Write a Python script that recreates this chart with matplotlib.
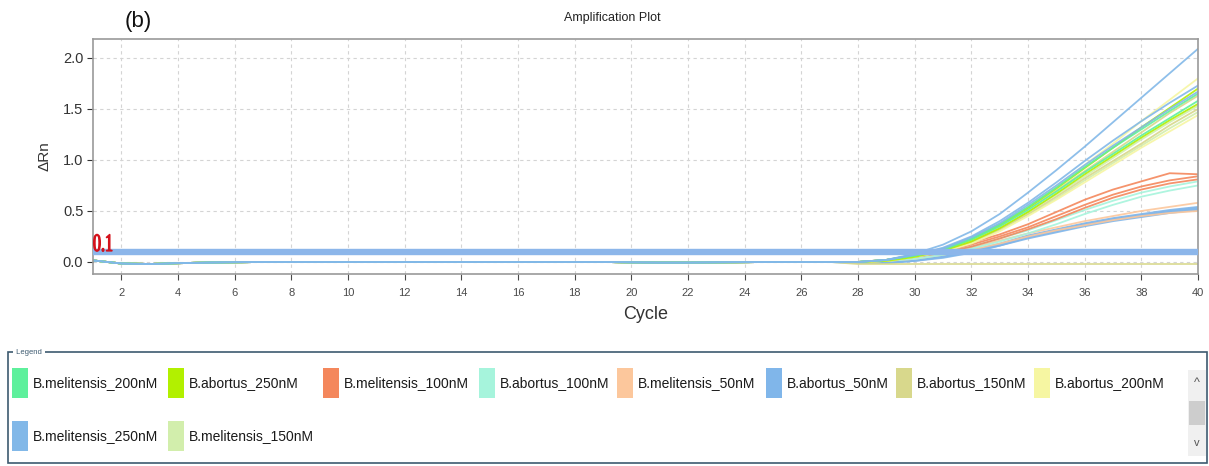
import matplotlib
matplotlib.use("Agg")
import matplotlib.pyplot as plt
from matplotlib.patches import Rectangle, PathPatch
from matplotlib.textpath import TextPath
from matplotlib.font_manager import FontProperties
from matplotlib.transforms import Affine2D

plt.rcParams['font.family'] = ['Liberation Sans', 'DejaVu Sans']

# ---------------- data ----------------
series_names = [
    "B.melitensis_200nM", "B.abortus_250nM", "B.melitensis_100nM", "B.abortus_100nM",
    "B.melitensis_50nM", "B.abortus_50nM", "B.abortus_150nM", "B.abortus_200nM",
    "B.melitensis_250nM", "B.melitensis_150nM",
]
series_colors = [
    "#5ef09c", "#b2f000", "#f4875c", "#a6f4dc",
    "#fcc79c", "#80b6ea", "#d8d88c", "#f6f6a2",
    "#82b8e8", "#d2eeac",
]

early_cycles = list(range(1, 28))
# shared flat baseline for cycles 1-27
baseline = [0.015, -0.015, -0.02, -0.012, -0.006, -0.003, 0.0, 0.0, 0.0, 0.0,
            0.0, 0.0, 0.0, 0.0, 0.0, 0.0, 0.0, 0.0, 0.0, -0.004,
            -0.006, -0.006, -0.004, -0.002, 0.0, 0.0, 0.0]

late_cycles = list(range(28, 41))
# replicate amplification curves, cycles 28-40
curves = {
    "B.melitensis_250nM": [
        [0.0, 0.02, 0.08, 0.17, 0.30, 0.47, 0.68, 0.90, 1.13, 1.37, 1.61, 1.85, 2.09],
        [0.0, 0.02, 0.07, 0.14, 0.25, 0.40, 0.58, 0.78, 0.99, 1.19, 1.38, 1.56, 1.73],
        [0.0, 0.02, 0.07, 0.13, 0.24, 0.38, 0.56, 0.75, 0.95, 1.14, 1.32, 1.50, 1.67],
    ],
    "B.melitensis_200nM": [
        [0.0, 0.02, 0.07, 0.13, 0.23, 0.37, 0.54, 0.73, 0.93, 1.12, 1.30, 1.48, 1.65],
        [0.0, 0.02, 0.06, 0.12, 0.22, 0.35, 0.51, 0.69, 0.88, 1.06, 1.24, 1.41, 1.58],
    ],
    "B.abortus_250nM": [
        [0.0, 0.02, 0.06, 0.12, 0.22, 0.36, 0.53, 0.72, 0.92, 1.12, 1.32, 1.51, 1.70],
        [0.0, 0.01, 0.05, 0.11, 0.20, 0.33, 0.49, 0.67, 0.86, 1.04, 1.22, 1.39, 1.55],
    ],
    "B.abortus_200nM": [
        [0.0, 0.02, 0.06, 0.12, 0.22, 0.36, 0.54, 0.74, 0.95, 1.16, 1.38, 1.59, 1.80],
        [0.0, 0.01, 0.05, 0.10, 0.18, 0.30, 0.45, 0.61, 0.78, 0.95, 1.12, 1.28, 1.44],
    ],
    "B.melitensis_150nM": [
        [0.0, 0.02, 0.06, 0.11, 0.20, 0.33, 0.49, 0.66, 0.84, 1.02, 1.20, 1.37, 1.53],
        [0.0, 0.01, 0.05, 0.10, 0.19, 0.31, 0.46, 0.62, 0.80, 0.97, 1.14, 1.31, 1.47],
    ],
    "B.abortus_150nM": [
        [0.0, 0.02, 0.06, 0.12, 0.21, 0.35, 0.52, 0.70, 0.89, 1.08, 1.27, 1.46, 1.63],
        [0.0, 0.01, 0.05, 0.10, 0.19, 0.32, 0.47, 0.64, 0.82, 0.99, 1.16, 1.34, 1.50],
        [-0.02, -0.02, -0.02, -0.02, -0.02, -0.02, -0.02, -0.02, -0.02, -0.02, -0.02, -0.02, -0.02],
    ],
    "B.melitensis_100nM": [
        [0.0, 0.02, 0.06, 0.12, 0.19, 0.27, 0.37, 0.49, 0.61, 0.71, 0.79, 0.87, 0.86],
        [0.0, 0.02, 0.05, 0.10, 0.17, 0.25, 0.34, 0.45, 0.56, 0.66, 0.74, 0.80, 0.84],
        [0.0, 0.01, 0.05, 0.09, 0.15, 0.23, 0.32, 0.42, 0.53, 0.63, 0.71, 0.77, 0.81],
    ],
    "B.abortus_100nM": [
        [0.0, 0.01, 0.04, 0.09, 0.15, 0.23, 0.31, 0.41, 0.51, 0.60, 0.68, 0.74, 0.79],
        [0.0, 0.01, 0.03, 0.07, 0.13, 0.20, 0.28, 0.37, 0.47, 0.56, 0.64, 0.70, 0.75],
    ],
    "B.melitensis_50nM": [
        [0.0, 0.01, 0.04, 0.08, 0.14, 0.21, 0.28, 0.34, 0.40, 0.45, 0.50, 0.54, 0.58],
        [0.0, 0.01, 0.03, 0.07, 0.12, 0.18, 0.25, 0.31, 0.36, 0.41, 0.45, 0.48, 0.50],
    ],
    "B.abortus_50nM": [
        [0.0, 0.0, 0.02, 0.06, 0.11, 0.18, 0.26, 0.32, 0.38, 0.43, 0.47, 0.51, 0.54],
        [0.0, 0.0, 0.02, 0.05, 0.10, 0.17, 0.25, 0.31, 0.37, 0.42, 0.46, 0.50, 0.53],
        [-0.01, -0.01, 0.01, 0.05, 0.10, 0.16, 0.24, 0.30, 0.36, 0.41, 0.45, 0.49, 0.52],
        [-0.01, -0.01, 0.01, 0.04, 0.09, 0.16, 0.23, 0.29, 0.35, 0.40, 0.44, 0.48, 0.51],
    ],
}

threshold = 0.1
x_ticks = list(range(2, 41, 2))
y_ticks = [0.0, 0.5, 1.0, 1.5, 2.0]

# ---------------- figure ----------------
W, H = 1209, 466
fig = plt.figure(figsize=(W / 100, H / 100), dpi=100)
fig.patch.set_facecolor("white")

def fx(px):
    return px / W

def fy(py):
    return 1 - py / H

ax = fig.add_axes([fx(93), fy(274), fx(1198) - fx(93), fy(39) - fy(274)])
ax.set_xlim(1, 40)
ax.set_ylim(-0.118, 2.186)

color_of = dict(zip(series_names, series_colors))
draw_order = ["B.abortus_50nM", "B.melitensis_50nM", "B.abortus_100nM", "B.melitensis_100nM",
              "B.melitensis_150nM", "B.abortus_150nM", "B.abortus_200nM", "B.abortus_250nM",
              "B.melitensis_200nM", "B.melitensis_250nM"]
for name in draw_order:
    for rep in curves[name]:
        xs = early_cycles + late_cycles
        ys = baseline + rep
        ax.plot(xs, ys, color=color_of[name], lw=1.3, alpha=0.9, solid_capstyle="round")

# threshold line
ax.axhline(threshold, color="#8cb6ea", lw=4.6, zorder=5)

# condensed serif threshold value, placed in display (pixel) space
tp = TextPath((0, 0), "0.1", size=25, prop=FontProperties(family="Liberation Serif"))
label_tf = Affine2D().scale(0.64, 1.0).translate(93, H - 251)
fig.add_artist(PathPatch(tp, transform=label_tf, facecolor="#d4121c",
                         edgecolor="#d4121c", lw=0.9, zorder=6))

ax.set_xticks(x_ticks)
ax.set_yticks(y_ticks)
ax.set_yticklabels([f"{v:.1f}" for v in y_ticks])
ax.tick_params(axis="x", labelsize=8, colors="#4a4a4a", length=4, width=0.8, pad=6)
ax.tick_params(axis="y", labelsize=10.5, colors="#333333", length=4, width=0.8, pad=3)
ax.grid(True, color="#d4d4d4", linestyle=(0, (3, 3)), lw=0.8)
ax.set_axisbelow(True)
for s in ax.spines.values():
    s.set_color("#9a9a9a")
    s.set_linewidth(1.2)

ax.set_xlabel("Cycle", fontsize=13, color="#333333", labelpad=6)
ax.set_ylabel("ΔRn", fontsize=11, color="#333333", labelpad=8)

fig.text(fx(612), fy(18), "Amplification Plot", fontsize=9, color="#222222",
         ha="center", va="center")
fig.text(fx(125), fy(22), "(b)", fontsize=16, color="#111111", ha="left", va="center")

# ---------------- legend panel ----------------
box = Rectangle((fx(8), fy(463)), fx(1207) - fx(8), fy(352) - fy(463),
                transform=fig.transFigure, fill=False, edgecolor="#3d5a70", lw=1.2)
fig.add_artist(box)
fig.text(fx(14), fy(352), " Legend ", fontsize=5.5, color="#3d5a70", ha="left", va="center",
         bbox=dict(facecolor="white", edgecolor="none", pad=0.5))

entry_x = [12, 168, 323, 479, 617, 766, 896, 1034, 12, 168]
entry_y = [383, 383, 383, 383, 383, 383, 383, 383, 436, 436]
for name, col, px, py in zip(series_names, series_colors, entry_x, entry_y):
    fig.add_artist(Rectangle((fx(px), fy(py + 15)), fx(16), 30 / H,
                             transform=fig.transFigure, facecolor=col, edgecolor="none"))
    fig.text(fx(px + 21), fy(py), name, fontsize=10, color="#1a1a1a", ha="left", va="center")

# scrollbar
fig.add_artist(Rectangle((fx(1188), fy(456)), fx(18), 86 / H, transform=fig.transFigure,
                         facecolor="#f0f0f0", edgecolor="none"))
fig.add_artist(Rectangle((fx(1189), fy(425)), fx(16), 24 / H, transform=fig.transFigure,
                         facecolor="#cdcdcd", edgecolor="none"))
fig.text(fx(1197), fy(383), "^", fontsize=9, color="#555555", ha="center", va="center")
fig.text(fx(1197), fy(443), "v", fontsize=8, color="#555555", ha="center", va="center")

fig.savefig("out.png", dpi=100, facecolor="white")
